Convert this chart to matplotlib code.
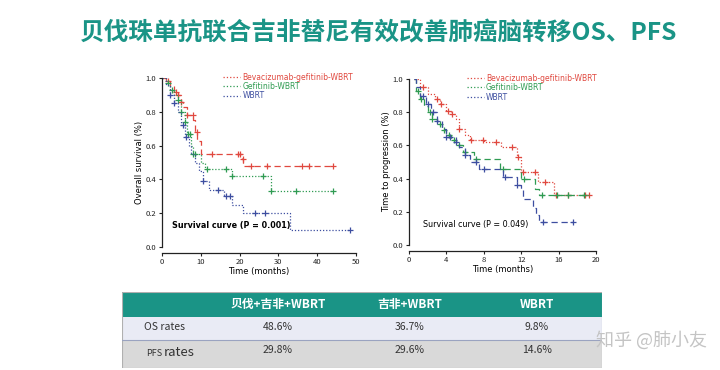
import numpy as np
import matplotlib
matplotlib.use("Agg")
import matplotlib.pyplot as plt
from matplotlib.patches import Rectangle

plt.rcParams['font.family'] = ['Noto Sans CJK SC', 'DejaVu Sans']

# =========================
# DATA
# =========================
TITLE = "贝伐珠单抗联合吉非替尼有效改善肺癌脑转移OS、PFS"
GROUPS = ["Bevacizumab-gefitinib-WBRT", "Gefitinib-WBRT", "WBRT"]
COLORS = ["#e0483f", "#2f9b52", "#3d4ea0"]

# Overall survival (left)
os_red_t = [0, 1, 2, 3, 4, 5, 5.5, 6.5, 8, 8.5, 9, 10, 20.5, 21]
os_red_s = [1.0, 0.98, 0.95, 0.92, 0.90, 0.86, 0.83, 0.78, 0.75, 0.68, 0.63, 0.55, 0.52, 0.48]
os_red_end = 44
os_red_cens = [1.5, 3.5, 4.2, 5, 6.5, 7.9, 8.9, 12.8, 19.5, 20.2, 20.8, 23, 27, 36, 38, 44]

os_green_t = [0, 1, 2, 3, 4, 5, 6, 6.5, 7.5, 8, 10, 11, 18, 28]
os_green_s = [1.0, 0.97, 0.93, 0.90, 0.87, 0.80, 0.74, 0.67, 0.60, 0.55, 0.50, 0.46, 0.42, 0.33]
os_green_end = 44
os_green_cens = [1.5, 2.5, 4, 5, 6, 6.7, 7.2, 8, 8.5, 11.5, 16.5, 18, 26, 28, 34.5, 44]

os_blue_t = [0, 1, 2, 3, 4, 5, 6, 7, 7.5, 8.5, 9.5, 10.5, 12, 16, 18, 21, 33]
os_blue_s = [1.0, 0.96, 0.90, 0.85, 0.80, 0.72, 0.65, 0.60, 0.55, 0.50, 0.45, 0.39, 0.34, 0.30, 0.25, 0.20, 0.10]
os_blue_end = 48.5
os_blue_cens = [2, 3, 5.3, 6.2, 10.5, 14.5, 16.5, 17.5, 24, 26.5, 48.5]

# Time to progression (right)
pfs_red_t = [0.5, 1.2, 2, 2.8, 3.3, 4, 4.5, 5, 5.3, 6, 6.5, 8, 9.8, 11.6, 12, 13.8, 15.5]
pfs_red_s = [1.0, 0.95, 0.91, 0.88, 0.85, 0.81, 0.79, 0.76, 0.70, 0.66, 0.63, 0.62, 0.59, 0.53, 0.44, 0.38, 0.30]
pfs_red_end = 19.3
pfs_red_cens = [1.5, 3, 3.4, 4.2, 4.6, 5.3, 6.6, 7.9, 9.3, 11, 11.7, 12.2, 13.5, 14.5, 15.7, 17, 18.8, 19.2]

pfs_green_t = [0.5, 0.8, 1.2, 1.6, 2, 2.5, 3, 3.5, 4, 4.5, 5, 5.8, 7, 9.7, 12, 13.5, 13.9]
pfs_green_s = [1.0, 0.93, 0.88, 0.84, 0.80, 0.76, 0.73, 0.69, 0.66, 0.63, 0.60, 0.56, 0.52, 0.46, 0.40, 0.34, 0.30]
pfs_green_end = 19.3
pfs_green_cens = [1, 1.3, 2.2, 2.5, 3.3, 3.7, 4.3, 4.8, 5.3, 6, 7.2, 10, 12.3, 14.2, 15.8, 17, 18.7]

pfs_blue_t = [0.5, 0.8, 1.2, 1.8, 2.3, 3, 3.5, 4, 5, 5.4, 6, 6.5, 7.5, 10, 11.6, 12, 12.2, 13.3, 13.6, 13.9]
pfs_blue_s = [1.0, 0.95, 0.90, 0.85, 0.80, 0.75, 0.70, 0.65, 0.62, 0.59, 0.54, 0.50, 0.46, 0.41, 0.36, 0.34, 0.28, 0.22, 0.18, 0.14]
pfs_blue_end = 17.5
pfs_blue_cens = [1.5, 2, 2.6, 3, 4, 4.4, 5, 6, 7.2, 8, 10.3, 11.6, 14.3, 17.5]

# Table
TABLE_COLS = ["贝伐+吉非+WBRT", "吉非+WBRT", "WBRT"]
OS_RATES = ["48.6%", "36.7%", "9.8%"]
PFS_RATES = ["29.8%", "29.6%", "14.6%"]

TEAL = "#1a9486"


# =========================
# HELPERS
# =========================
def km(ax, t, s, end, cens, color, ls):
    t = np.asarray(t, float)
    s = np.asarray(s, float)
    xs = np.append(t, end)
    ys = np.append(s, s[-1])
    ax.step(xs, ys, where="post", color=color, linestyle=ls, linewidth=0.9)
    idx = np.searchsorted(t, np.asarray(cens), side="right") - 1
    ax.plot(cens, s[np.clip(idx, 0, None)], linestyle="none", marker="+",
            color=color, markersize=5, markeredgewidth=0.9)


def style_axes(ax, xmax, xticks, ylabel):
    ax.set_xlim(0, xmax)
    ax.set_ylim(0, 1.0)
    ax.set_xticks(xticks)
    ax.set_yticks(np.arange(0, 1.01, 0.2))
    ax.set_yticklabels([f"{v:.1f}" for v in np.arange(0, 1.01, 0.2)])
    for sp in ("top", "right"):
        ax.spines[sp].set_visible(False)
    ax.spines["bottom"].set_position(("outward", 4))
    for sp in ("left", "bottom"):
        ax.spines[sp].set_linewidth(0.9)
        ax.spines[sp].set_color("#222")
    ax.tick_params(labelsize=5.5, length=2.5, width=0.8, pad=1.5, colors="#222")
    ax.set_xlabel("Time (months)", fontsize=6, labelpad=0.5, family="DejaVu Sans")
    ax.set_ylabel(ylabel, fontsize=6, labelpad=1.5, family="DejaVu Sans")
    ax.set_facecolor("none")


def legend(ax, anchor):
    hs = [plt.Line2D([], [], color=c, linestyle=":", linewidth=0.9) for c in COLORS]
    ax.legend(hs, GROUPS, loc="upper right", bbox_to_anchor=anchor, frameon=False,
              handlelength=2.2, handletextpad=0.3, labelspacing=0.05,
              borderaxespad=0, labelcolor=COLORS, prop={"family": "DejaVu Sans", "size": 5.5})


# =========================
# FIGURE
# =========================
fig = plt.figure(figsize=(7.2, 3.7), dpi=100)
fig.patch.set_facecolor("white")

fig.text(0.526, 0.909, TITLE, ha="center", va="center", fontsize=17.7,
         fontweight="bold", color=TEAL)

# ── LEFT: Overall survival ─────────────────
ax1 = fig.add_axes([162 / 720, 123 / 370, 194 / 720, 169 / 370])
km(ax1, os_red_t, os_red_s, os_red_end, os_red_cens, COLORS[0], (0, (5, 3)))
km(ax1, os_green_t, os_green_s, os_green_end, os_green_cens, COLORS[1], (0, (1, 1.5)))
km(ax1, os_blue_t, os_blue_s, os_blue_end, os_blue_cens, COLORS[2], (0, (1, 1.5)))
style_axes(ax1, 50, np.arange(0, 51, 10), "Overall survival (%)")
legend(ax1, (1.0, 1.05))
ax1.text(2.5, 0.13, "Survival curve (P = 0.001)", fontsize=5.8, fontweight="bold",
         family="DejaVu Sans", va="center")

# ── RIGHT: Time to progression ─────────────
ax2 = fig.add_axes([409 / 720, 125 / 370, 187 / 720, 166 / 370])
km(ax2, pfs_red_t, pfs_red_s, pfs_red_end, pfs_red_cens, COLORS[0], (0, (1, 1.5)))
km(ax2, pfs_green_t, pfs_green_s, pfs_green_end, pfs_green_cens, COLORS[1], (0, (5, 3)))
km(ax2, pfs_blue_t, pfs_blue_s, pfs_blue_end, pfs_blue_cens, COLORS[2], (0, (5, 3)))
style_axes(ax2, 20, np.arange(0, 21, 4), "Time to progression (%)")
legend(ax2, (1.02, 1.05))
ax2.text(1.5, 0.125, "Survival curve (P = 0.049)", fontsize=5.8,
         family="DejaVu Sans", va="center")

# ── TABLE ──────────────────────────────────
axt = fig.add_axes([122 / 720, 2 / 370, 480 / 720, 76 / 370])
axt.set_xlim(0, 480)
axt.set_ylim(76, 0)
axt.axis("off")
axt.add_patch(Rectangle((0, 0), 480, 25, facecolor=TEAL, edgecolor="none"))
axt.add_patch(Rectangle((0, 25), 480, 23, facecolor="#e9ebf5", edgecolor="none"))
axt.add_patch(Rectangle((0, 48), 480, 28, facecolor="#d9d9d9", edgecolor="none"))
axt.plot([0, 480], [48, 48], color="#9aa3c0", linewidth=0.8)
axt.add_patch(Rectangle((0, 0), 480, 76, facecolor="none", edgecolor="#b0b0b0", linewidth=0.8))

col_x = [156, 288, 415]
for x, name, o, p in zip(col_x, TABLE_COLS, OS_RATES, PFS_RATES):
    axt.text(x, 12.5, name, ha="center", va="center", color="white",
             fontsize=8.5, fontweight="bold")
    axt.text(x, 35, o, ha="center", va="center", color="#333", fontsize=7.5)
    axt.text(x, 58, p, ha="center", va="center", color="#333", fontsize=7.5)
axt.text(43, 35, "OS rates", ha="center", va="center", color="#333", fontsize=7.5)
axt.text(40, 61, "PFS", ha="right", va="center", color="#333", fontsize=6.5)
axt.text(42, 61, "rates", ha="left", va="center", color="#333", fontsize=9.5)

# watermark
fig.text(0.905, 0.081, "知乎 @肺小友", ha="center", va="center", fontsize=13,
         color="#c4c4c4")

fig.savefig("out.png", dpi=100)
